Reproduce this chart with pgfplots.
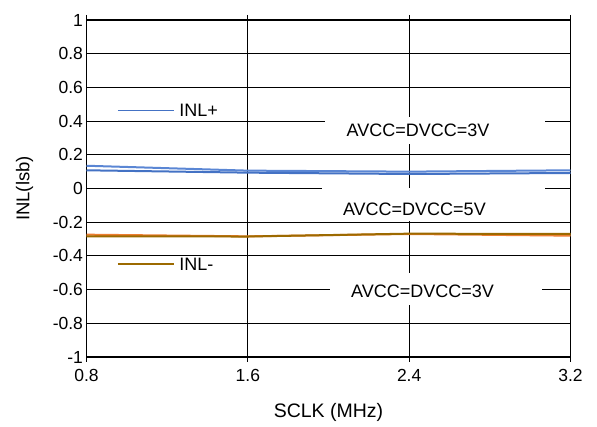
\documentclass[border=0pt]{standalone}
\usepackage{pgfplots}
\pgfplotsset{compat=1.18}
\usepackage{fontspec}
\setmainfont{Liberation Sans}

\definecolor{inlblue}{HTML}{4472C4}
\definecolor{inlblueb}{HTML}{5A86D4}
\definecolor{inlorange}{HTML}{ED7D31}
\definecolor{inlbrown}{HTML}{9C6A00}

\newcommand\lbl{\fontsize{18}{21}\selectfont}

\begin{document}
\begin{tikzpicture}
\begin{axis}[
  scale only axis,
  width=484pt, height=337pt,
  xmin=0.8, xmax=3.2, ymin=-1, ymax=1,
  xtick={0.8,1.6,2.4,3.2},
  xticklabels={0.8,1.6,2.4,3.2},
  ytick={-1,-0.8,-0.6,-0.4,-0.2,0,0.2,0.4,0.6,0.8,1},
  yticklabels={-1,-0.8,-0.6,-0.4,-0.2,0,0.2,0.4,0.6,0.8,1},
  /pgf/number format/assume math mode=true,
  tick label style={font=\fontsize{17.5}{20}\selectfont},
  xtick align=outside,
  major tick length=5pt,
  ytick style={draw=none},
  xtick style={black, line width=0.8pt},
  xticklabel style={yshift=-4pt},
  xmajorgrids, ymajorgrids,
  major grid style={black, line width=0.8pt},
  axis line style={black, line width=1pt},
  xlabel={SCLK (MHz)},
  ylabel={INL(lsb)},
  xlabel style={font=\fontsize{19.5}{22}\selectfont, at={(axis description cs:0.5,-0.166)}, anchor=center},
  ylabel style={font=\fontsize{18.5}{22}\selectfont, at={(axis description cs:-0.128,0.5)}, anchor=center, rotate=0},
  clip=false,
]
% white panels behind the supply annotations
\fill[white] (axis cs:1.983,0.424) rectangle (axis cs:3.074,0.264);
\fill[white] (axis cs:1.966,0.005) rectangle (axis cs:3.074,-0.195);
\fill[white] (axis cs:2.007,-0.50) rectangle (axis cs:3.057,-0.691);
\node[font=\lbl] at (axis cs:2.444,0.343) {AVCC=DVCC=3V};
\node[font=\lbl] at (axis cs:2.426,-0.122) {AVCC=DVCC=5V};
\node[font=\lbl] at (axis cs:2.466,-0.612) {AVCC=DVCC=3V};

% INL+ curves
\addplot[inlblueb, line width=2pt] coordinates {(0.8,0.135) (1.6,0.106) (2.4,0.100) (3.2,0.108)};
\addplot[inlblue, line width=2pt] coordinates {(0.8,0.108) (1.6,0.094) (2.4,0.086) (3.2,0.092)};
% INL- curves
\addplot[inlorange, line width=2pt] coordinates {(0.8,-0.274) (1.6,-0.284) (2.4,-0.270) (3.2,-0.280)};
\addplot[inlbrown, line width=2pt] coordinates {(0.8,-0.284) (1.6,-0.285) (2.4,-0.268) (3.2,-0.270)};

% keys
\draw[inlblue, line width=1.6pt] (axis cs:0.956,0.462) -- (axis cs:1.234,0.462);
\node[font=\lbl, anchor=west, inner sep=0pt] at (axis cs:1.259,0.462) {INL+};
\draw[inlbrown, line width=1.6pt] (axis cs:0.956,-0.448) -- (axis cs:1.234,-0.448);
\node[font=\lbl, anchor=west, inner sep=0pt] at (axis cs:1.259,-0.448) {INL-};

\coordinate (sw) at (rel axis cs:0,0);
\coordinate (ne) at (rel axis cs:1,1);
\end{axis}
\pgfresetboundingbox
\path ([xshift=-86.5pt,yshift=-70pt]sw) rectangle ([xshift=26.5pt,yshift=20pt]ne);
\end{tikzpicture}
\end{document}
